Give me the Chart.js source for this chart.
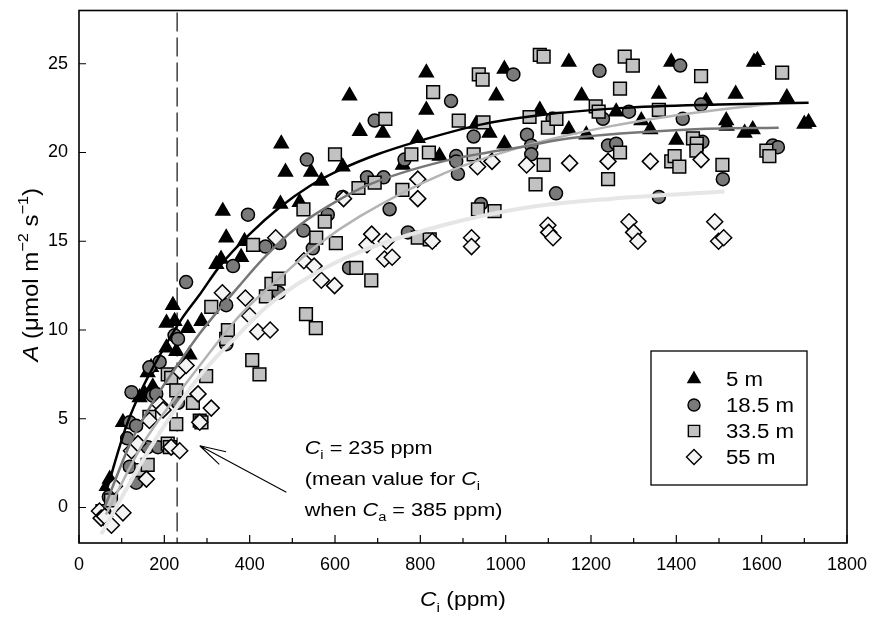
<!DOCTYPE html>
<html><head><meta charset="utf-8">
<script src="https://cdn.jsdelivr.net/npm/chart.js@4.4.0/dist/chart.umd.min.js"></script>
<style>html,body{margin:0;padding:0;background:#fff}#wrap{width:870px;height:617px}</style>
</head><body><div id="wrap"><canvas id="c" width="870" height="617"></canvas></div>
<script>
// ---------- data ----------
const seriesNames = ['5 m', '18.5 m', '33.5 m', '55 m'];
const xTicks = [0, 200, 400, 600, 800, 1000, 1200, 1400, 1600, 1800];
const xMinorTicks = [100, 300, 500, 700, 900, 1100, 1300, 1500, 1700];
const yTicks = [0, 5, 10, 15, 20, 25];
const ciMean = 230; // dashed reference line (ppm)

const pts5m = [[65,1.2],[72,1.6],[103,4.8],[142,6.2],[154,6.4],[161,7.6],[169,7.9],[173,6.8],[205,9.0],[205,10.4],[220,11.4],[224,10.5],[228,8.8],[255,10.1],[259,8.6],[287,10.5],[322,13.7],[333,14.0],[337,16.7],[345,15.2],[380,14.1],[388,15.0],[472,17.1],[474,20.5],[484,18.9],[517,17.2],[544,18.9],[568,18.4],[618,19.2],[634,23.2],[658,21.2],[712,21.1],[759,19.3],[794,20.8],[814,24.5],[814,22.4],[845,19.8],[931,21.6],[962,21.1],[978,23.2],[997,24.7],[997,20.5],[1080,22.4],[1148,25.1],[1148,21.3],[1178,23.2],[1189,21.0],[1259,22.3],[1318,21.8],[1339,21.3],[1359,23.3],[1388,25.1],[1400,20.7],[1470,22.9],[1517,21.8],[1518,21.5],[1539,23.3],[1560,21.1],[1579,21.3],[1582,25.1],[1590,25.2],[1659,23.1],[1700,21.6],[1710,21.7]];
const pts18m = [[60,-0.3],[70,0.6],[119,2.3],[134,1.4],[113,3.9],[119,4.8],[134,4.6],[161,3.4],[185,3.4],[123,6.5],[173,6.3],[181,6.4],[165,7.9],[189,8.2],[224,9.7],[232,9.5],[232,5.9],[251,12.7],[345,11.4],[345,9.2],[361,13.6],[396,16.5],[437,14.7],[470,14.9],[468,12.1],[526,15.6],[534,19.6],[548,14.6],[583,16.5],[618,17.5],[633,13.5],[675,18.6],[693,21.8],[714,18.6],[728,16.8],[763,19.6],[771,15.5],[872,22.9],[884,19.8],[884,19.5],[888,18.8],[925,20.9],[942,17.1],[1018,24.4],[1050,21.0],[1060,20.4],[1060,19.9],[1110,21.9],[1118,17.7],[1220,24.6],[1228,21.9],[1240,20.4],[1259,20.5],[1289,22.3],[1359,17.5],[1409,24.9],[1415,21.9],[1458,22.7],[1461,20.6],[1509,18.5],[1626,20.4],[1638,20.3]];
const pts33m = [[55,-0.2],[75,0.4],[146,2.1],[161,2.4],[165,5.1],[208,3.6],[213,3.4],[208,7.5],[216,7.3],[228,6.6],[228,4.7],[267,5.9],[283,4.9],[287,4.8],[298,7.4],[310,11.3],[345,9.5],[349,10.0],[406,8.3],[408,14.8],[423,7.5],[438,11.9],[451,12.6],[468,12.9],[526,16.8],[532,10.9],[555,10.1],[556,15.2],[576,16.1],[600,19.9],[602,14.9],[650,13.5],[655,18.0],[685,12.8],[693,18.3],[718,21.9],[758,17.9],[779,19.9],[794,15.2],[820,20.0],[822,15.1],[830,23.4],[890,21.8],[925,19.9],[935,16.8],[937,24.4],[946,24.1],[948,21.7],[974,16.7],[1056,22.0],[1070,18.2],[1080,25.5],[1089,25.4],[1089,19.3],[1099,21.4],[1119,21.9],[1211,22.6],[1218,22.3],[1240,18.5],[1268,23.6],[1268,20.0],[1279,25.4],[1298,24.9],[1359,22.4],[1388,19.5],[1396,19.8],[1407,19.2],[1439,20.8],[1448,20.5],[1447,20.1],[1458,24.3],[1508,19.3],[1611,20.1],[1618,19.8],[1648,24.5]];
const pts55m = [[48,-0.2],[52,-0.6],[60,-0.5],[76,-1.0],[83,1.2],[103,-0.3],[123,3.2],[138,3.6],[158,1.6],[165,4.9],[189,5.8],[197,5.5],[216,3.4],[236,3.2],[236,7.7],[251,8.0],[279,6.4],[283,4.8],[310,5.6],[336,12.1],[390,11.8],[400,10.8],[419,9.9],[448,10.0],[461,15.2],[527,13.9],[551,13.6],[568,12.8],[599,12.5],[620,17.4],[675,14.8],[686,15.4],[720,15.0],[716,14.0],[734,14.1],[794,18.5],[794,17.4],[828,15.0],[920,15.2],[920,14.7],[934,19.2],[968,19.5],[1049,19.3],[1099,15.9],[1101,15.5],[1111,15.2],[1150,19.4],[1240,19.5],[1289,16.1],[1300,15.5],[1310,15.0],[1339,19.5],[1458,19.6],[1490,16.1],[1499,15.0],[1511,15.2]];

// fitted response curves
const fit5m = [[65,1.0],[111,4.6],[150,6.8],[197,8.9],[240,10.6],[283,12.0],[330,13.6],[400,15.4],[470,16.9],[540,18.1],[619,19.1],[700,19.9],[790,20.6],[947,21.6],[1079,22.1],[1267,22.5],[1500,22.7],[1710,22.8]];
const fit18m = [[60,0.0],[120,3.6],[180,6.2],[236,8.2],[283,9.8],[376,12.5],[439,14.2],[517,15.9],[600,17.2],[681,18.2],[853,19.5],[1056,20.4],[1150,20.8],[1431,21.3],[1640,21.4]];
const fit33m = [[63,-0.4],[150,3.6],[220,6.0],[283,8.0],[376,10.8],[478,13.1],[560,14.8],[658,16.4],[853,18.8],[1050,20.4],[1250,21.5],[1431,22.2],[1645,22.8]];
const fit55m = [[52,-1.5],[158,3.0],[236,5.9],[300,7.9],[376,9.8],[439,11.3],[540,13.0],[658,14.4],[853,15.9],[1050,16.9],[1250,17.4],[1513,17.8]];

// ---------- styles ----------
const FONT = '"Liberation Sans", Arial, Helvetica, sans-serif';
const TEXT_STRETCH = 1.14;
const styles = [
  {shape:'triangle', r:8,   fill:'#000000', line:'#000000', lw:2.5},
  {shape:'circle',   r:6.5, fill:'#7a7a7a', line:'#777777', lw:2.5},
  {shape:'rect',     r:9,   fill:'#c2c2c2', line:'#b4b4b4', lw:2.5},
  {shape:'rectRot',  r:8,   fill:'#f4f4f4', line:'#e6e6e6', lw:4}
];
const ptsAll = [pts5m, pts18m, pts33m, pts55m];
const fitAll = [fit5m, fit18m, fit33m, fit55m];
const toXY = a => a.map(p => ({x:p[0], y:p[1]}));

const datasets = [];
fitAll.forEach((f,i) => datasets.push({
  label: seriesNames[i] + ' fit', data: toXY(f), showLine:true, pointRadius:0,
  borderColor: styles[i].line, borderWidth: styles[i].lw, fill:false,
  cubicInterpolationMode:'monotone', order: 0
}));
ptsAll.forEach((p,i) => datasets.push({
  label: seriesNames[i], data: toXY(p), showLine:false,
  pointStyle: styles[i].shape, pointRadius: styles[i].r, pointHoverRadius: styles[i].r,
  backgroundColor: styles[i].fill, borderColor:'#000', borderWidth:1.5,
  order: 10 - i
}));

// rich text with italic / sub / sup parts, optional horizontal stretch
function richText(ctx, parts, x, y, size, align, stretch) {
  const sx = stretch || 1;
  const items = parts.map(p => {
    const fs = (p.sub || p.sup) ? size * 0.68 : size;
    ctx.font = (p.it ? 'italic ' : '') + fs + 'px ' + FONT;
    return {p, fs, w: ctx.measureText(p.t).width};
  });
  const total = items.reduce((s, it) => s + it.w, 0) * sx;
  const x0 = align === 'center' ? x - total / 2 : x;
  ctx.save();
  ctx.translate(x0, y); ctx.scale(sx, 1);
  ctx.textAlign = 'left'; ctx.textBaseline = 'alphabetic';
  let cx = 0;
  items.forEach(it => {
    ctx.font = (it.p.it ? 'italic ' : '') + it.fs + 'px ' + FONT;
    const dy = it.p.sub ? size * 0.28 : it.p.sup ? -size * 0.42 : 0;
    ctx.fillText(it.p.t, cx, dy);
    cx += it.w;
  });
  ctx.restore();
}

function marker(ctx, shape, x, y, r) {
  ctx.beginPath();
  if (shape === 'triangle') {
    for (let k = 0; k < 3; k++) {
      const a = k * 2 * Math.PI / 3;
      const px = x + Math.sin(a) * r, py = y - Math.cos(a) * r;
      k ? ctx.lineTo(px, py) : ctx.moveTo(px, py);
    }
    ctx.closePath();
  } else if (shape === 'circle') {
    ctx.arc(x, y, r, 0, Math.PI * 2);
  } else if (shape === 'rect') {
    const s = r * Math.SQRT1_2; ctx.rect(x - s, y - s, 2 * s, 2 * s);
  } else {
    ctx.moveTo(x - r, y); ctx.lineTo(x, y - r); ctx.lineTo(x + r, y); ctx.lineTo(x, y + r); ctx.closePath();
  }
  ctx.fill(); ctx.stroke();
}

const decor = {
  id: 'decor',
  beforeDatasetsDraw(chart) {
    const {ctx, chartArea: a, scales: {x}} = chart;
    const px = x.getPixelForValue(ciMean);
    ctx.save();
    ctx.strokeStyle = '#222'; ctx.lineWidth = 1.3; ctx.setLineDash([19, 6]);
    ctx.beginPath(); ctx.moveTo(px, a.top + 2); ctx.lineTo(px, a.bottom); ctx.stroke();
    ctx.restore();
  },
  afterDraw(chart) {
    const {ctx, chartArea: a, scales: {x, y}} = chart;
    ctx.save();
    // frame
    ctx.strokeStyle = '#000'; ctx.lineWidth = 1.6;
    ctx.strokeRect(a.left, a.top, a.right - a.left, a.bottom - a.top);
    // inward ticks
    ctx.lineWidth = 1.2;
    ctx.beginPath();
    xTicks.forEach(v => { const p = x.getPixelForValue(v); ctx.moveTo(p, a.bottom); ctx.lineTo(p, a.bottom - 8); });
    xMinorTicks.forEach(v => { const p = x.getPixelForValue(v); ctx.moveTo(p, a.bottom); ctx.lineTo(p, a.bottom - 5); });
    yTicks.forEach(v => { const p = y.getPixelForValue(v); ctx.moveTo(a.left, p); ctx.lineTo(a.left + 7, p); });
    ctx.stroke();

    ctx.fillStyle = '#000';
    // axis titles
    richText(ctx, [{t:'C', it:true}, {t:'i', sub:true}, {t:' (ppm)'}], (a.left + a.right) / 2, 606, 20, 'center', TEXT_STRETCH);
    ctx.save();
    ctx.translate(38, (a.top + a.bottom) / 2 - 2);
    ctx.rotate(-Math.PI / 2);
    ctx.scale(1, TEXT_STRETCH);
    richText(ctx, [{t:'A', it:true}, {t:' (\u03bcmol m'}, {t:'\u22122', sup:true}, {t:' s'}, {t:'\u22121', sup:true}, {t:')'}], 0, 0, 20, 'center', 1.2);
    ctx.restore();

    // annotation text
    const ax = x.getPixelForValue(529), ay = y.getPixelForValue(3.04);
    richText(ctx, [{t:'C', it:true}, {t:'i', sub:true}, {t:' = 235 ppm'}], ax, ay, 19, 'left', TEXT_STRETCH);
    richText(ctx, [{t:'(mean value for '}, {t:'C', it:true}, {t:'i', sub:true}], ax, ay + 31, 19, 'left', TEXT_STRETCH);
    richText(ctx, [{t:'when '}, {t:'C', it:true}, {t:'a', sub:true}, {t:' = 385 ppm)'}], ax, ay + 62, 19, 'left', TEXT_STRETCH);
    // arrow
    const tx = x.getPixelForValue(283), ty = y.getPixelForValue(3.48);
    const sx = x.getPixelForValue(486), sy = y.getPixelForValue(0.86);
    const ang = Math.atan2(sy - ty, sx - tx);
    ctx.strokeStyle = '#000'; ctx.lineWidth = 1.1;
    ctx.beginPath();
    ctx.moveTo(sx, sy); ctx.lineTo(tx, ty);
    [-0.27, 0.27].forEach(d => { ctx.moveTo(tx, ty); ctx.lineTo(tx + 27 * Math.cos(ang + d), ty + 27 * Math.sin(ang + d)); });
    ctx.stroke();

    // legend box
    const L = {x: 651, y: 351, w: 156, h: 134};
    ctx.fillStyle = '#fff'; ctx.fillRect(L.x, L.y, L.w, L.h);
    ctx.strokeStyle = '#000'; ctx.lineWidth = 1.3; ctx.strokeRect(L.x, L.y, L.w, L.h);
    const legR = [7, 6, 8, 7.5];
    seriesNames.forEach((n, i) => {
      const cy = L.y + 28 + i * 26;
      ctx.fillStyle = styles[i].fill; ctx.strokeStyle = '#000'; ctx.lineWidth = 1.4;
      marker(ctx, styles[i].shape, 694, cy, legR[i]);
      ctx.fillStyle = '#000';
      richText(ctx, [{t:n}], 726, cy + 7, 19.5, 'left', TEXT_STRETCH);
    });
    ctx.restore();
  }
};

new Chart(document.getElementById('c'), {
  type: 'scatter',
  data: {datasets},
  options: {
    responsive: false, animation: false, devicePixelRatio: 1,
    layout: {padding: {left: 0, right: 23, top: 6, bottom: 0}},
    plugins: {legend: {display: false}, tooltip: {enabled: false}},
    scales: {
      x: {
        type: 'linear', min: 0, max: 1800,
        afterBuildTicks: s => { s.ticks = xTicks.map(v => ({value: v})); },
        afterFit: s => { s.height = 74; s.paddingLeft = 0; s.paddingRight = 0; },
        grid: {display: false, drawTicks: false},
        border: {display: false},
        ticks: {color: '#000', font: {family: FONT, size: 18}, padding: 11, maxRotation: 0, autoSkip: false,
                callback: v => String(v)}
      },
      y: {
        type: 'linear', min: -2, max: 28,
        afterBuildTicks: s => { s.ticks = yTicks.map(v => ({value: v})); },
        afterFit: s => { s.width = 79; s.paddingTop = 0; s.paddingBottom = 0; },
        grid: {display: false, drawTicks: false},
        border: {display: false},
        ticks: {color: '#000', font: {family: FONT, size: 18}, padding: 11, callback: v => String(v)}
      }
    }
  },
  plugins: [decor]
});
</script></body></html>
